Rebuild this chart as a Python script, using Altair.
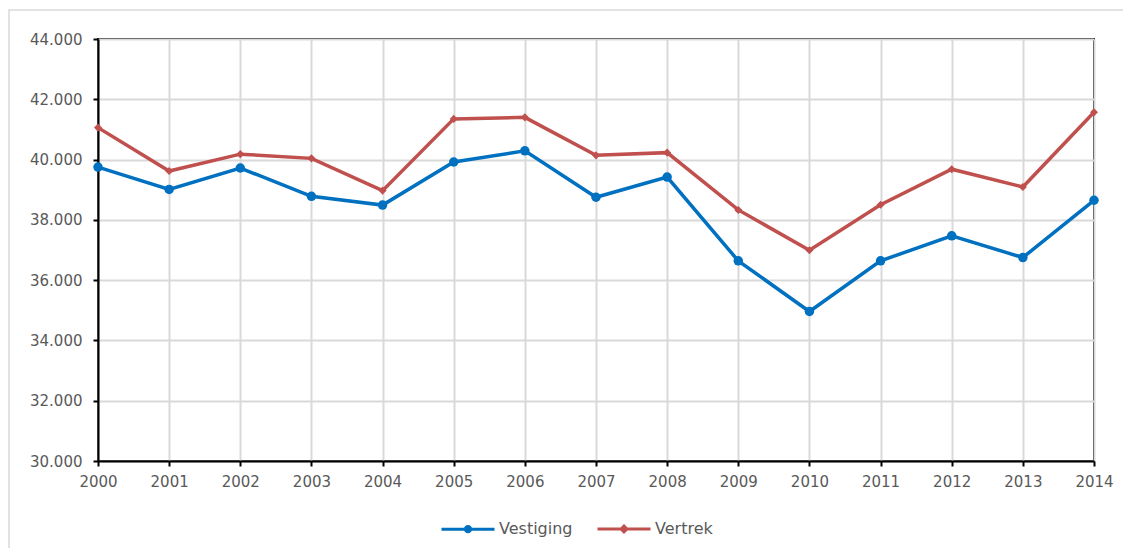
import altair as alt
import pandas as pd

years = list(range(2000, 2015))
vestiging = [39750, 39010, 39720, 38780, 38490, 39920, 40290, 38750, 39420,
             36640, 34960, 36640, 37470, 36750, 38650]
vertrek = [41060, 39620, 40180, 40040, 38970, 41350, 41400, 40140, 40230,
           38330, 36990, 38500, 39680, 39090, 41570]
series = ["Vestiging", "Vertrek"]
colors = ["#0070C0", "#C0504D"]
y_ticks = list(range(30000, 44001, 2000))

rows = []
for yr, a, b in zip(years, vestiging, vertrek):
    rows.append({"Jaar": yr, "Reeks": series[0], "Aantal": a})
    rows.append({"Jaar": yr, "Reeks": series[1], "Aantal": b})
df = pd.DataFrame(rows)

FONT = "DejaVu Sans"
LABEL = "#595959"
GRID = "#d9d9d9"

sym_expr = ("datum.value === 'Vertrek' ? "
            "'M-1,0L1,0M0,-0.11L0.11,0L0,0.11L-0.11,0Z' : "
            "'M-1,0L1,0M-0.1,0A0.1,0.1 0 1,1 0.1,0A0.1,0.1 0 1,1 -0.1,0Z'")
col_expr = "datum.value === 'Vertrek' ? '#C0504D' : '#0070C0'"

x = alt.X("Jaar:Q",
          scale=alt.Scale(domain=[2000, 2014], nice=False, zero=False),
          axis=alt.Axis(values=years, format="d", title=None, labelPadding=8,
                        labelFlush=False))
y = alt.Y("Aantal:Q",
          scale=alt.Scale(domain=[30000, 44000], nice=False, zero=False),
          axis=alt.Axis(values=y_ticks, title=None, labelPadding=11,
                        labelExpr="replace(format(datum.value, ','), ',', '.')"))
legend = alt.Legend(orient="none", legendX=342, legendY=462,
                    direction="horizontal", title=None,
                    symbolType=alt.ExprRef(expr=sym_expr), symbolSize=2809,
                    symbolStrokeWidth=3,
                    symbolFillColor=alt.ExprRef(expr=col_expr),
                    symbolStrokeColor=alt.ExprRef(expr=col_expr),
                    labelFont=FONT, labelFontSize=16, labelColor=LABEL,
                    labelOffset=3, columnPadding=18)
color = alt.Color("Reeks:N", scale=alt.Scale(domain=series, range=colors),
                  legend=legend)

base = alt.Chart(df)
lines = base.mark_line(strokeWidth=3.5).encode(x=x, y=y, color=color)
pts_v = base.transform_filter(alt.datum.Reeks == series[0]).mark_point(
    filled=True, opacity=1, shape="circle", size=90
).encode(x=x, y=y, color=color)
pts_r = base.transform_filter(alt.datum.Reeks == series[1]).mark_point(
    filled=True, opacity=1, shape="diamond", size=65
).encode(x=x, y=y, color=color)

border = alt.Chart(alt.Data(values=[{}])).mark_rect(
    fill="transparent", stroke=GRID, strokeWidth=1.5
).encode(x=alt.value(-89), x2=alt.value(1100), y=alt.value(-29), y2=alt.value(700))

chart = alt.layer(border, lines, pts_v, pts_r).properties(
    width=996, height=422,
    autosize=alt.AutoSizeParams(type="none"),
    padding={"left": 90, "top": 31, "right": 29, "bottom": 87},
    background="white",
).configure_view(
    stroke="black", strokeWidth=2
).configure_axis(
    labelFont=FONT, labelFontSize=15, labelColor=LABEL,
    domainColor="black", domainWidth=2,
    tickColor="black", tickWidth=2, tickSize=5,
    gridColor=GRID, gridWidth=2,
)

chart.save("out.html", embed_options={"renderer": "svg", "actions": False})
